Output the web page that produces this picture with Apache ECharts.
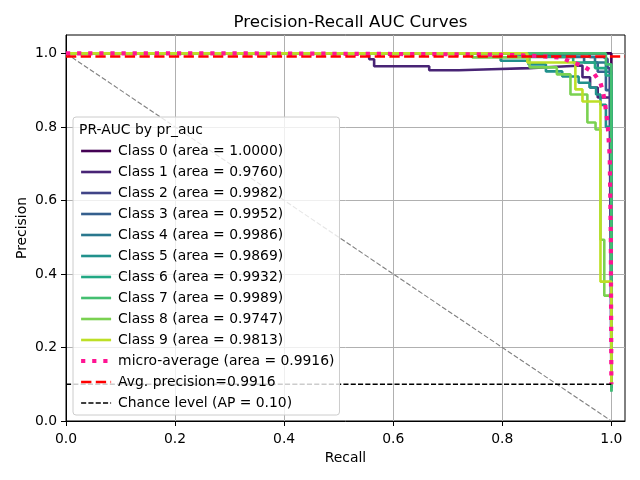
<!DOCTYPE html>
<html><head><meta charset="utf-8">
<script src="https://cdn.jsdelivr.net/npm/echarts@6/dist/echarts.min.js"></script>
<style>html,body{margin:0;padding:0;background:#fff}#chart{width:640px;height:480px}</style>
</head><body><div id="chart"></div>
<script>
// ---------- data ----------
const chartTitle = 'Precision-Recall AUC Curves';
const legendTitle = 'PR-AUC by pr_auc';
const classNames = ['Class 0','Class 1','Class 2','Class 3','Class 4','Class 5','Class 6','Class 7','Class 8','Class 9'];
const classAUC = [1.0000, 0.9760, 0.9982, 0.9952, 0.9986, 0.9869, 0.9932, 0.9989, 0.9747, 0.9813];

const recall0 = [0, 1.0];
const prec0   = [1.0, 0.10];
const recall1 = [0, 0.556, 0.565, 0.666, 0.72, 0.78, 0.85, 0.89, 0.947, 0.961, 0.975, 1.0];
const prec1   = [1.0, 0.984, 0.965, 0.954, 0.957, 0.960, 0.963, 0.967, 0.935, 0.907, 0.88, 0.10];
const recall2 = [0, 0.96, 0.985, 0.993, 0.997, 1.0];
const prec2   = [1.0, 0.99, 0.985, 0.96, 0.86, 0.10];
const recall3 = [0, 0.90, 0.95, 0.975, 0.99, 1.0];
const prec3   = [1.0, 0.99, 0.975, 0.95, 0.90, 0.10];
const recall4 = [0, 0.80, 0.85, 0.97, 0.99, 1.0];
const prec4   = [1.0, 0.995, 0.99, 0.975, 0.95, 0.09];
const recall5 = [0, 0.797, 0.848, 0.88, 0.91, 0.94, 0.96, 0.972, 0.98, 0.99, 1.0];
const prec5   = [1.0, 0.98, 0.97, 0.951, 0.937, 0.92, 0.907, 0.888, 0.86, 0.80, 0.09];
const recall6 = [0, 0.85, 0.93, 0.97, 0.99, 1.0];
const prec6   = [1.0, 0.99, 0.975, 0.96, 0.94, 0.08];
const recall7 = [0, 0.99, 1.0];
const prec7   = [1.0, 0.97, 0.08];
const recall8 = [0, 0.745, 0.85, 0.90, 0.925, 0.956, 0.971, 0.98, 0.987, 1.0];
const prec8   = [1.0, 0.989, 0.962, 0.943, 0.888, 0.812, 0.793, 0.493, 0.341, 0.10];
const recall9 = [0, 0.846, 0.934, 0.947, 0.98, 1.0];
const prec9   = [1.0, 0.975, 0.902, 0.869, 0.379, 0.10];

const microRecall = [0, 0.3, 0.5, 0.65, 0.77, 0.85, 0.906, 0.925, 0.94, 0.952, 0.967, 0.98, 0.985, 0.989, 0.993, 0.997, 0.999, 1.0];
const microPrecision = [1.0, 1.0, 0.999, 0.998, 0.997, 0.994, 0.989, 0.978, 0.97, 0.962, 0.948, 0.92, 0.894, 0.856, 0.812, 0.72, 0.50, 0.10];
const microAUC = 0.9916;
const avgPrecision = 0.9916;
const chanceLevel = 0.10;

const xTicks = [0.0, 0.2, 0.4, 0.6, 0.8, 1.0];
const yTicks = [0.0, 0.2, 0.4, 0.6, 0.8, 1.0];
const xLimits = [0, 1.025];
const yLimits = [0, 1.05];

// ---------- style ----------
const colors = ['#440154','#482475','#414487','#355f8d','#2a788e','#21918c','#22a884','#44bf70','#7ad151','#bddf26'];
const FONT = 'DejaVu Sans';

const recalls = [recall0,recall1,recall2,recall3,recall4,recall5,recall6,recall7,recall8,recall9];
const precs = [prec0,prec1,prec2,prec3,prec4,prec5,prec6,prec7,prec8,prec9];
const zip = (a, b) => a.map((v, i) => [v, b[i]]);

const series = [];
series.push({
  name: 'diag', type: 'line', symbol: 'none', silent: true,
  data: [[0, 1], [1, 0]],
  lineStyle: { color: '#808080', width: 1.1, type: [5, 2.2] }, z: 2
});
const legendNames = [];
classNames.forEach((c, i) => {
  const nm = `${c} (area = ${classAUC[i].toFixed(4)})`;
  legendNames.push(nm);
  series.push({
    name: nm, type: 'line', symbol: 'none', step: 'end',
    data: zip(recalls[i], precs[i]),
    lineStyle: { color: colors[i], width: 2.6 }, itemStyle: { color: colors[i] }, z: 3
  });
});
const microName = `micro-average (area = ${microAUC.toFixed(4)})`;
legendNames.push(microName);
series.push({
  name: microName, type: 'line', symbol: 'none',
  data: zip(microRecall, microPrecision),
  lineStyle: { color: '#ff1493', width: 4.2, type: [4.2, 6.9], cap: 'butt' }, itemStyle: { color: '#ff1493' }, z: 4
});
const avgName = `Avg. precision=${avgPrecision.toFixed(4)}`;
legendNames.push(avgName);
series.push({
  name: avgName, type: 'line', symbol: 'none',
  data: [[xLimits[0], avgPrecision], [xLimits[1], avgPrecision]],
  lineStyle: { color: '#ff0000', width: 2.6, type: [10.3, 4.4] }, itemStyle: { color: '#ff0000' }, z: 5
});
const chanceName = `Chance level (AP = ${chanceLevel.toFixed(2)})`;
legendNames.push(chanceName);
series.push({
  name: chanceName, type: 'line', symbol: 'none',
  data: [[0, chanceLevel], [1, chanceLevel]],
  lineStyle: { color: '#000000', width: 1.3, type: [5.1, 2.2] }, itemStyle: { color: '#000000' }, z: 5
});

const axisCommon = {
  type: 'value',
  axisLine: { show: true, lineStyle: { color: '#000', width: 1 } },
  axisTick: { show: true, length: 5, lineStyle: { color: '#000', width: 1 } },
  splitLine: { show: true, lineStyle: { color: '#b0b0b0', width: 1 } },
  nameLocation: 'middle',
  nameMoveOverlap: false,
  nameTextStyle: { fontFamily: FONT, fontSize: 13.9, color: '#000' },
};

const chart = echarts.init(document.getElementById('chart'), null, { renderer: 'canvas' });
chart.setOption({
  animation: false,
  backgroundColor: '#fff',
  title: [
    { text: chartTitle, left: 345.5, top: 9, textAlign: 'center',
      textStyle: { fontFamily: FONT, fontSize: 16.7, fontWeight: 'normal', color: '#000' } },
    { text: legendTitle, left: 74, top: 118, padding: [5, 5],
      textStyle: { fontFamily: FONT, fontSize: 13.9, fontWeight: 'normal', color: '#000' }, z: 10 }
  ],
  grid: { left: 66, right: 15, top: 35, bottom: 59, show: true, borderColor: '#000', borderWidth: 1, containLabel: false },
  xAxis: Object.assign({}, axisCommon, {
    min: xLimits[0], max: xLimits[1], name: 'Recall', nameGap: 30,
    axisTick: Object.assign({}, axisCommon.axisTick, { customValues: xTicks }),
    axisLabel: { customValues: xTicks, formatter: v => v.toFixed(1), fontFamily: FONT, fontSize: 13.9, color: '#000', margin: 11 }
  }),
  yAxis: Object.assign({}, axisCommon, {
    min: yLimits[0], max: yLimits[1], name: 'Precision', nameGap: 37,
    axisTick: Object.assign({}, axisCommon.axisTick, { customValues: yTicks }),
    axisLabel: { customValues: yTicks, formatter: v => v.toFixed(1), fontFamily: FONT, fontSize: 13.9, color: '#000', margin: 9 }
  }),
  legend: {
    orient: 'vertical', left: 73, top: 117,
    data: legendNames,
    itemWidth: 30, itemHeight: 14, itemGap: 7,
    padding: [27, 5, 5, 6],
    backgroundColor: 'rgba(255,255,255,0.8)', borderColor: '#cccccc', borderWidth: 1, borderRadius: 3,
    textStyle: { fontFamily: FONT, fontSize: 13.9, color: '#000', padding: [0, 0, 0, 2], lineHeight: 14 },
    itemStyle: { opacity: 0 },
    lineStyle: { width: 'inherit', type: 'inherit', color: 'inherit' },
    selectedMode: false,
    z: 6
  },
  series: series
});
</script></body></html>
